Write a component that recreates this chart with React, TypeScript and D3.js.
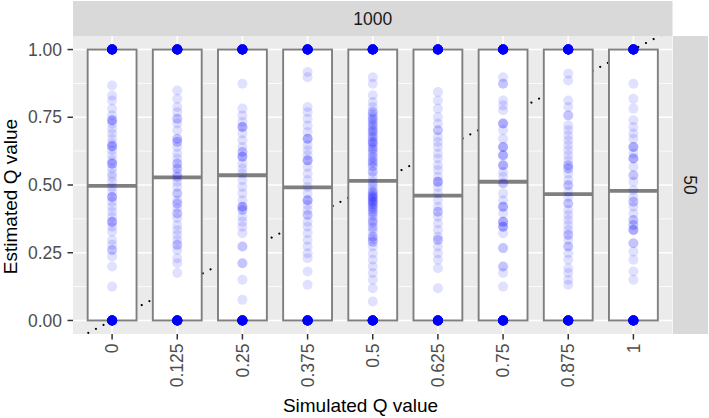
import { useEffect } from "react";
import * as d3 from "d3";

// simulated Q levels (x categories)
const categories = ["0", "0.125", "0.25", "0.375", "0.5", "0.625", "0.75", "0.875", "1"];

// box statistics per category
const boxLower = [0, 0, 0, 0, 0, 0, 0, 0, 0];
const boxUpper = [1, 1, 1, 1, 1, 1, 1, 1, 1];
const boxMedian = [0.497, 0.528, 0.536, 0.491, 0.515, 0.461, 0.512, 0.466, 0.478];

// estimates that landed exactly on the bounds
const countAtZero = [40, 40, 40, 40, 40, 40, 40, 40, 40];
const countAtOne = [40, 40, 40, 40, 40, 40, 40, 40, 40];

// interior estimates per category
const estQ0 = [0.867, 0.83, 0.812, 0.782, 0.757, 0.739, 0.739, 0.739, 0.727, 0.708, 0.69, 0.671, 0.653,
  0.643, 0.643, 0.643, 0.628, 0.61, 0.591, 0.579, 0.579, 0.579, 0.561, 0.542, 0.53, 0.512, 0.493, 0.475,
  0.456, 0.456, 0.456, 0.438, 0.42, 0.401, 0.383, 0.364, 0.364, 0.364, 0.346, 0.328, 0.297, 0.279, 0.26,
  0.26, 0.236, 0.199, 0.125];
const estQ0125 = [0.849, 0.818, 0.788, 0.769, 0.745, 0.745, 0.727, 0.702, 0.671, 0.671, 0.659, 0.659, 0.64,
  0.616, 0.598, 0.579, 0.579, 0.561, 0.561, 0.542, 0.53, 0.53, 0.512, 0.493, 0.469, 0.469, 0.444, 0.432,
  0.432, 0.414, 0.395, 0.395, 0.377, 0.352, 0.334, 0.316, 0.297, 0.279, 0.279, 0.26, 0.23, 0.211, 0.175];
const estQ025 = [0.874, 0.782, 0.757, 0.733, 0.714, 0.714, 0.714, 0.69, 0.665, 0.64, 0.622, 0.622, 0.604,
  0.604, 0.604, 0.579, 0.561, 0.542, 0.518, 0.493, 0.469, 0.444, 0.42, 0.42, 0.42, 0.408, 0.408, 0.383,
  0.364, 0.346, 0.322, 0.273, 0.273, 0.211, 0.211, 0.15, 0.076];
const estQ0375 = [0.917, 0.898, 0.788, 0.769, 0.745, 0.72, 0.696, 0.671, 0.671, 0.671, 0.647, 0.628, 0.61,
  0.591, 0.591, 0.591, 0.567, 0.542, 0.518, 0.493, 0.469, 0.444, 0.444, 0.444, 0.426, 0.408, 0.389, 0.389,
  0.364, 0.346, 0.322, 0.297, 0.273, 0.248, 0.23, 0.181, 0.132];
const estQ05 = [0.898, 0.874, 0.831, 0.806, 0.788, 0.769, 0.77, 0.751, 0.74, 0.733, 0.72, 0.714, 0.7,
  0.696, 0.68, 0.677, 0.66, 0.659, 0.65, 0.64, 0.63, 0.622, 0.604, 0.6, 0.585, 0.58, 0.567, 0.548, 0.53,
  0.512, 0.493, 0.475, 0.47, 0.456, 0.46, 0.45, 0.438, 0.44, 0.43, 0.42, 0.41, 0.401, 0.4, 0.383, 0.37,
  0.364, 0.346, 0.328, 0.309, 0.31, 0.291, 0.29, 0.273, 0.248, 0.224, 0.199, 0.175, 0.15, 0.119, 0.07,
  0.76, 0.745, 0.725, 0.705, 0.69, 0.67, 0.655, 0.635, 0.615, 0.59, 0.57, 0.55, 0.5, 0.48, 0.465, 0.455,
  0.445, 0.435, 0.425, 0.415, 0.39, 0.36, 0.34, 0.3];
const estQ0625 = [0.843, 0.812, 0.782, 0.751, 0.727, 0.702, 0.702, 0.677, 0.659, 0.64, 0.616, 0.598, 0.573,
  0.555, 0.53, 0.512, 0.512, 0.512, 0.493, 0.469, 0.444, 0.42, 0.401, 0.401, 0.383, 0.358, 0.334, 0.309,
  0.297, 0.297, 0.273, 0.248, 0.224, 0.193, 0.119];
const estQ075 = [0.898, 0.874, 0.874, 0.812, 0.794, 0.776, 0.727, 0.727, 0.727, 0.702, 0.671, 0.64, 0.64,
  0.64, 0.61, 0.61, 0.61, 0.573, 0.573, 0.573, 0.548, 0.53, 0.506, 0.506, 0.469, 0.444, 0.42, 0.42, 0.42,
  0.395, 0.364, 0.364, 0.364, 0.346, 0.346, 0.346, 0.322, 0.267, 0.267, 0.199, 0.199, 0.175, 0.125];
const estQ0875 = [0.911, 0.886, 0.812, 0.788, 0.757, 0.757, 0.72, 0.702, 0.683, 0.665, 0.647, 0.628, 0.61,
  0.591, 0.573, 0.573, 0.561, 0.561, 0.542, 0.518, 0.499, 0.499, 0.475, 0.456, 0.432, 0.432, 0.408, 0.389,
  0.371, 0.352, 0.334, 0.316, 0.316, 0.297, 0.273, 0.273, 0.248, 0.224, 0.193, 0.175, 0.15, 0.132];
const estQ1 = [0.874, 0.818, 0.782, 0.739, 0.714, 0.69, 0.671, 0.64, 0.64, 0.64, 0.616, 0.598, 0.598, 0.598,
  0.567, 0.536, 0.536, 0.512, 0.481, 0.456, 0.438, 0.438, 0.42, 0.395, 0.371, 0.371, 0.352, 0.352, 0.334,
  0.334, 0.334, 0.285, 0.285, 0.254, 0.224, 0.181, 0.15];
const estimates = [estQ0, estQ0125, estQ025, estQ0375, estQ05, estQ0625, estQ075, estQ0875, estQ1];

const yMajor = [0, 0.25, 0.5, 0.75, 1];
const yMinor = [0.125, 0.375, 0.625, 0.875];
const yTickLabels = ["0.00", "0.25", "0.50", "0.75", "1.00"];

// y = x reference in category-index units
const refIntercept = 0;
const refSlope = 0.125;

const stripTop = "1000";
const stripRight = "50";

const W = 709;
const H = 418;
const panel = { left: 73, right: 672.5, top: 36, bottom: 334 };
const font = "'Liberation Sans', Arial, Helvetica, sans-serif";

export default function App() {
  useEffect(() => {
    document.body.style.margin = "0";
  }, []);

  const x = d3.scalePoint<string>().domain(categories).range([panel.left, panel.right]).padding(0.6);
  const step = x.step();
  const y = d3.scaleLinear().domain([-0.05, 1.05]).range([panel.bottom, panel.top]);
  const boxHalf = step * 0.375;

  // reference line endpoints (index space), clipped to the panel
  const idx0 = -0.6, idx1 = categories.length - 1 + 0.6;
  const px = (i: number) => (x(categories[0]) as number) + i * step;
  const refLine = d3.line<number>().x(i => px(i)).y(i => y(refIntercept + refSlope * i));

  const pts: { cx: number; v: number }[] = [];
  categories.forEach((c, i) => {
    const cx = x(c) as number;
    for (let k = 0; k < countAtZero[i]; k++) pts.push({ cx, v: 0 });
    for (let k = 0; k < countAtOne[i]; k++) pts.push({ cx, v: 1 });
    estimates[i].forEach(v => pts.push({ cx, v }));
  });

  return (
    <svg width={W} height={H} style={{ display: "block" }} fontFamily={font}>
      <rect width={W} height={H} fill="#fff" />
      <defs>
        <clipPath id="panel-clip">
          <rect x={panel.left} y={panel.top} width={panel.right - panel.left} height={panel.bottom - panel.top} />
        </clipPath>
      </defs>

      {/* panel background + grid */}
      <rect x={panel.left} y={panel.top} width={panel.right - panel.left} height={panel.bottom - panel.top} fill="#ebebeb" />
      {yMinor.map(v => (
        <line key={"mn" + v} x1={panel.left} x2={panel.right} y1={y(v)} y2={y(v)} stroke="#fff" strokeWidth={0.8} />
      ))}
      {yMajor.map(v => (
        <line key={"mj" + v} x1={panel.left} x2={panel.right} y1={y(v)} y2={y(v)} stroke="#fff" strokeWidth={1.6} />
      ))}
      {categories.map(c => (
        <line key={"vx" + c} x1={x(c)} x2={x(c)} y1={panel.top} y2={panel.bottom} stroke="#fff" strokeWidth={1.6} />
      ))}

      {/* dotted y = x */}
      <g clipPath="url(#panel-clip)">
        <path d={refLine([idx0, idx1]) as string} fill="none" stroke="#000" strokeWidth={2.1}
          strokeDasharray="0.01 8.6" strokeLinecap="round" />
      </g>

      {/* boxes */}
      {categories.map((c, i) => {
        const cx = x(c) as number;
        return (
          <g key={"box" + c}>
            <rect x={cx - boxHalf} y={y(boxUpper[i])} width={boxHalf * 2} height={y(boxLower[i]) - y(boxUpper[i])}
              fill="#fff" stroke="#7f7f7f" strokeWidth={1.9} />
            <line x1={cx - boxHalf} x2={cx + boxHalf} y1={y(boxMedian[i])} y2={y(boxMedian[i])}
              stroke="#7f7f7f" strokeWidth={3.8} />
          </g>
        );
      })}

      {/* estimates */}
      <g>
        {pts.map((p, k) => (
          <circle key={k} cx={p.cx} cy={y(p.v)} r={5} fill="#0000ff" fillOpacity={0.12} />
        ))}
      </g>

      {/* strips */}
      <rect x={panel.left} y={1} width={panel.right - panel.left} height={panel.top - 1} fill="#d9d9d9" />
      <text x={(panel.left + panel.right) / 2} y={25} textAnchor="middle" fontSize={17.5} fill="#1a1a1a">{stripTop}</text>
      <rect x={panel.right + 0.5} y={panel.top} width={W - 1 - panel.right - 0.5} height={panel.bottom - panel.top} fill="#d9d9d9" />
      <text transform={`translate(690,${(panel.top + panel.bottom) / 2}) rotate(90)`} textAnchor="middle" dy="0.35em"
        fontSize={17.5} fill="#1a1a1a">{stripRight}</text>

      {/* y axis */}
      {yMajor.map((v, i) => (
        <g key={"yt" + v}>
          <line x1={panel.left - 5.5} x2={panel.left} y1={y(v)} y2={y(v)} stroke="#333" strokeWidth={1.5} />
          <text x={62} y={y(v)} dy="0.35em" textAnchor="end" fontSize={17.5} fill="#4d4d4d">{yTickLabels[i]}</text>
        </g>
      ))}
      <text transform={`translate(17,196.5) rotate(-90)`} textAnchor="middle" fontSize={19} fill="#000">Estimated Q value</text>

      {/* x axis */}
      {categories.map(c => (
        <g key={"xt" + c}>
          <line x1={x(c)} x2={x(c)} y1={panel.bottom} y2={panel.bottom + 5.5} stroke="#333" strokeWidth={1.5} />
          <text transform={`translate(${x(c)},343.5) rotate(-90)`} dy="0.35em" textAnchor="end" fontSize={17.5} fill="#4d4d4d">{c}</text>
        </g>
      ))}
      <text x={360.5} y={412} textAnchor="middle" fontSize={19} fill="#000">Simulated Q value</text>
    </svg>
  );
}
